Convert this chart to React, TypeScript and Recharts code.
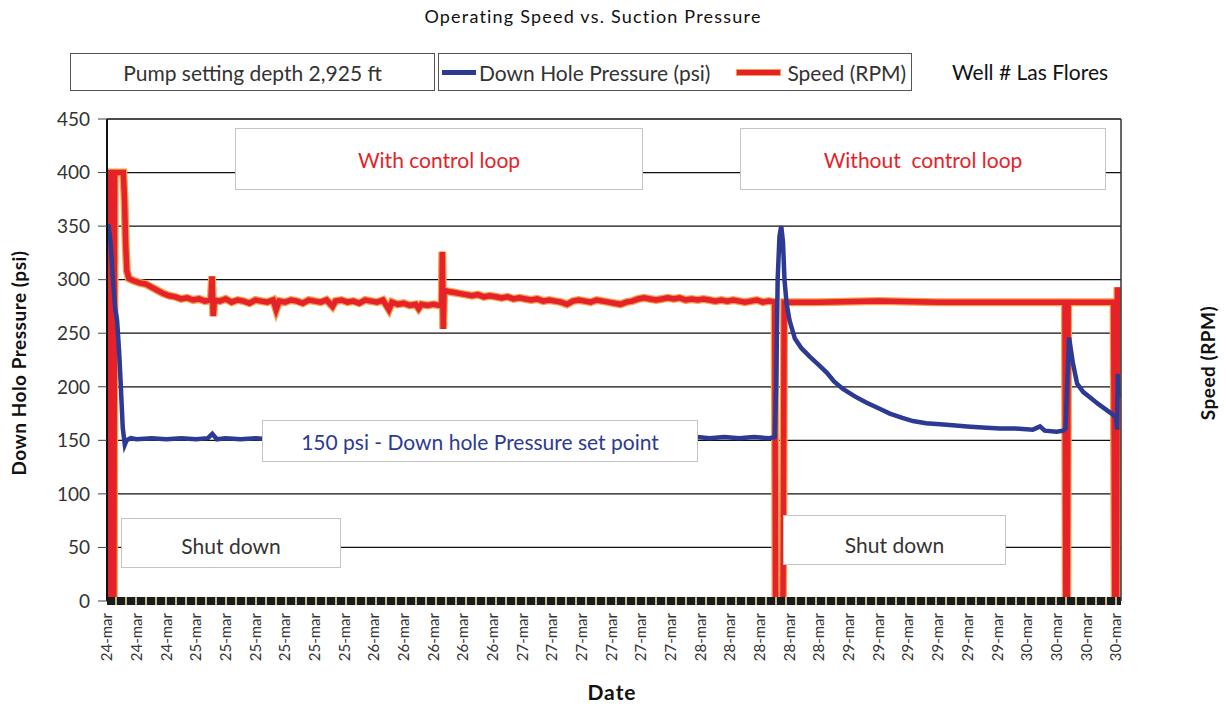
import React from "react";
import {
  LineChart,
  Line,
  XAxis,
  YAxis,
  CartesianGrid,
  ReferenceLine,
} from "recharts";

// x-axis tick labels, one per tick (tick index = time unit)
const xLabels = [
  "24-mar", "24-mar", "24-mar",
  "25-mar", "25-mar", "25-mar", "25-mar", "25-mar", "25-mar",
  "26-mar", "26-mar", "26-mar", "26-mar", "26-mar",
  "27-mar", "27-mar", "27-mar", "27-mar", "27-mar", "27-mar",
  "28-mar", "28-mar", "28-mar", "28-mar", "28-mar",
  "29-mar", "29-mar", "29-mar", "29-mar", "29-mar", "29-mar",
  "30-mar", "30-mar", "30-mar", "30-mar",
];

const yTicks = [0, 50, 100, 150, 200, 250, 300, 350, 400, 450];

// Speed (RPM): [time, rpm]
const speedPoints: [number, number][] = [
  [0, 0], [0.02, 400], [0.14, 400], [0.17, 0], [0.23, 0], [0.26, 400], [0.55, 400],
  [0.59, 375], [0.63, 332], [0.67, 308], [0.74, 301],
  [0.9, 299], [1.1, 297], [1.3, 296], [1.5, 293], [1.7, 290], [1.9, 287], [2.1, 285],
  [2.3, 284], [2.5, 282], [2.7, 283], [2.9, 281], [3.1, 282], [3.3, 280], [3.5, 281],
  [3.54, 303], [3.58, 266], [3.62, 281], [3.8, 280], [4.0, 282], [4.2, 279], [4.4, 281],
  [4.6, 280], [4.8, 278], [5.0, 281], [5.2, 280], [5.4, 279], [5.6, 281], [5.7, 272],
  [5.8, 280], [6.0, 279], [6.2, 281], [6.4, 280], [6.6, 278], [6.8, 281], [7.0, 280],
  [7.2, 279], [7.4, 281], [7.6, 275], [7.7, 280], [7.9, 281], [8.1, 279], [8.3, 280],
  [8.5, 278], [8.7, 281], [8.9, 280], [9.1, 279], [9.3, 281], [9.5, 272], [9.6, 279],
  [9.8, 277], [10.0, 278], [10.2, 276], [10.4, 277], [10.5, 273], [10.6, 277], [10.8, 276],
  [11.0, 277], [11.2, 276], [11.28, 278], [11.3, 326], [11.33, 254], [11.36, 290],
  [11.5, 289], [11.7, 288], [11.9, 287], [12.1, 286], [12.3, 285], [12.5, 286], [12.7, 284],
  [12.9, 285], [13.1, 284], [13.3, 283], [13.5, 284], [13.7, 282], [13.9, 283], [14.1, 282],
  [14.3, 281], [14.5, 282], [14.7, 280], [14.9, 281], [15.1, 280], [15.3, 279], [15.5, 277],
  [15.7, 280], [15.9, 281], [16.1, 280], [16.3, 279], [16.5, 281], [16.7, 280], [16.9, 279],
  [17.1, 278], [17.3, 277], [17.5, 279], [17.7, 280], [17.9, 282], [18.1, 283], [18.3, 282],
  [18.5, 281], [18.7, 282], [18.9, 283], [19.1, 282], [19.3, 283], [19.5, 281], [19.7, 282],
  [19.9, 281], [20.1, 282], [20.3, 281], [20.5, 280], [20.7, 281], [20.9, 280], [21.1, 281],
  [21.3, 280], [21.5, 279], [21.7, 280], [21.9, 281], [22.1, 279], [22.3, 280], [22.5, 279],
  [22.53, 0], [22.78, 0], [22.82, 279], [24, 279], [26, 280], [28, 279], [30, 279],
  [32.28, 279], [32.31, 0], [32.36, 0], [32.39, 279], [33.92, 279], [33.96, 0], [34.02, 0],
  [34.05, 293],
];

// Down hole pressure (psi): [time, psi]
const pressurePoints: [number, number][] = [
  [0.04, 352], [0.12, 335], [0.2, 300], [0.28, 272], [0.34, 262], [0.41, 232], [0.47, 198],
  [0.53, 162], [0.6, 146], [0.66, 150], [0.8, 152], [1.0, 151], [1.5, 152], [2.0, 151],
  [2.5, 152], [3.0, 151], [3.4, 152], [3.55, 156], [3.7, 151], [4.0, 152], [4.5, 151],
  [5.0, 152], [5.5, 151], [8, 152], [12, 152], [16, 152], [19.9, 153], [20.3, 152],
  [20.8, 153], [21.3, 152], [21.8, 153], [22.3, 152], [22.5, 153], [22.55, 200], [22.6, 300],
  [22.66, 340], [22.72, 350], [22.78, 335], [22.83, 300], [22.9, 278], [23.0, 262],
  [23.18, 245], [23.4, 236], [23.69, 228], [24.0, 220], [24.26, 213], [24.5, 205],
  [24.8, 198], [25.2, 191], [25.6, 185], [26.0, 180], [26.38, 175], [26.8, 171], [27.16, 168],
  [27.6, 166], [28.07, 165], [28.5, 164], [28.98, 163], [29.5, 162], [30.09, 161], [30.6, 161],
  [31.2, 160], [31.44, 163], [31.6, 159], [32.0, 158], [32.22, 159], [32.3, 161], [32.42, 246],
  [32.55, 222], [32.69, 203], [32.9, 195], [33.13, 190], [33.4, 184], [33.7, 178], [33.9, 174],
  [34.0, 171], [34.04, 160], [34.06, 212], [34.08, 190],
];

const speedData = speedPoints.map(([t, v]) => ({ t, v }));
const pressureData = pressurePoints.map(([t, v]) => ({ t, v }));
const xTicks = xLabels.map((_, i) => i);

const FONT = "Lato, 'Open Sans', sans-serif";
const RED = "#e52229";
const ORANGE = "#f6a04a";
const BLUE = "#2d3a94";

const DateTick = ({ x, y, payload }: any) => (
  <text
    x={x}
    y={y}
    transform={`rotate(-90 ${x} ${y})`}
    textAnchor="end"
    dy="0.35em"
    fontSize={15}
    fill="#333"
    fontFamily={FONT}
  >
    {xLabels[payload.value]}
  </text>
);

const boxStyle: React.CSSProperties = {
  position: "absolute",
  background: "#fff",
  border: "1.5px solid #c4c4c4",
  display: "flex",
  alignItems: "center",
  justifyContent: "center",
  fontSize: 21,
  whiteSpace: "pre",
  boxSizing: "border-box",
};

const axisTitle: React.CSSProperties = {
  position: "absolute",
  whiteSpace: "nowrap",
  fontSize: 19,
  fontWeight: 700,
  letterSpacing: 0.5,
  color: "#111",
};

export default function App() {
  return (
    <div
      style={{
        position: "absolute",
        left: 0,
        top: 0,
        width: 1226,
        height: 706,
        background: "#fff",
        fontFamily: FONT,
        color: "#222",
      }}
    >
      <LineChart
        width={1226}
        height={706}
        margin={{ top: 119, right: 0, bottom: 35, left: 0 }}
      >
        <CartesianGrid
          yAxisId="l"
          vertical={false}
          stroke="#111"
          strokeWidth={1.3}
        />
        <XAxis
          type="number"
          dataKey="t"
          domain={[0, 34.17]}
          ticks={xTicks}
          interval={0}
          allowDataOverflow
          height={70}
          tickSize={0}
          tickMargin={12}
          tickLine={false}
          axisLine={false}
          tick={<DateTick />}
        />
        <YAxis
          yAxisId="l"
          domain={[0, 450]}
          ticks={yTicks}
          width={107}
          tickSize={9}
          tickMargin={8}
          axisLine={{ stroke: "#111", strokeWidth: 2 }}
          tickLine={{ stroke: "#444" }}
          tick={{ fontSize: 19, fill: "#333", fontFamily: FONT }}
        />
        <YAxis
          yAxisId="r"
          orientation="right"
          domain={[0, 450]}
          ticks={yTicks}
          width={105}
          tickSize={8}
          tickMargin={2}
          axisLine={{ stroke: "#333", strokeWidth: 1.5 }}
          tickLine={{ stroke: "#444" }}
          tick={{ fontSize: 19, fill: "#333", fontFamily: FONT }}
        />
        <Line
          yAxisId="l"
          data={speedData}
          dataKey="v"
          type="linear"
          stroke={ORANGE}
          strokeWidth={8}
          dot={false}
          isAnimationActive={false}
          legendType="none"
        />
        <Line
          yAxisId="l"
          data={speedData}
          dataKey="v"
          type="linear"
          stroke={RED}
          strokeWidth={5.5}
          dot={false}
          isAnimationActive={false}
          name="Speed (RPM)"
        />
        <Line
          yAxisId="l"
          data={pressureData}
          dataKey="v"
          type="linear"
          stroke={BLUE}
          strokeWidth={4.5}
          dot={false}
          isAnimationActive={false}
          name="Down Hole Pressure (psi)"
        />
        <ReferenceLine yAxisId="l" y={0} stroke="#b9b68a" strokeWidth={8} />
        <ReferenceLine
          yAxisId="l"
          y={0}
          stroke="#1b1b1b"
          strokeWidth={8}
          strokeDasharray="8 2"
        />
      </LineChart>

      {/* title and legend row */}
      <div
        style={{
          position: "absolute",
          left: 0,
          width: 1186,
          top: 5,
          textAlign: "center",
          fontSize: 18,
          letterSpacing: 1.2,
          color: "#111",
        }}
      >
        Operating Speed vs. Suction Pressure
      </div>
      <div
        style={{
          position: "absolute",
          left: 70,
          top: 53,
          width: 365,
          height: 38,
          border: "1.5px solid #555",
          boxSizing: "border-box",
          display: "flex",
          alignItems: "center",
          justifyContent: "center",
          fontSize: 21,
          color: "#333",
        }}
      >
        Pump setting depth 2,925 ft
      </div>
      <div
        style={{
          position: "absolute",
          left: 438,
          top: 53,
          width: 474,
          height: 38,
          border: "1.5px solid #555",
          boxSizing: "border-box",
          display: "flex",
          alignItems: "center",
          fontSize: 21,
          color: "#333",
        }}
      >
        <span
          style={{
            display: "inline-block",
            width: 34,
            height: 5,
            background: BLUE,
            marginLeft: 3,
            marginRight: 3,
          }}
        />
        <span>Down Hole Pressure (psi)</span>
        <span
          style={{
            display: "inline-block",
            width: 43,
            height: 5,
            background: RED,
            border: `1px solid ${ORANGE}`,
            marginLeft: 26,
            marginRight: 6,
          }}
        />
        <span>Speed (RPM)</span>
      </div>
      <div
        style={{
          position: "absolute",
          left: 952,
          top: 59,
          fontSize: 21,
          color: "#111",
        }}
      >
        Well # Las Flores
      </div>

      {/* annotation boxes over the plot */}
      <div style={{ ...boxStyle, left: 235, top: 128, width: 408, height: 62, color: RED }}>
        With control loop
      </div>
      <div style={{ ...boxStyle, left: 740, top: 128, width: 366, height: 62, color: RED }}>
        Without  control loop
      </div>
      <div style={{ ...boxStyle, left: 262, top: 420, width: 436, height: 42, color: BLUE }}>
        150 psi - Down hole Pressure set point
      </div>
      <div style={{ ...boxStyle, left: 121, top: 518, width: 220, height: 50, color: "#333", paddingTop: 4 }}>
        Shut down
      </div>
      <div style={{ ...boxStyle, left: 783, top: 515, width: 223, height: 50, color: "#333", paddingTop: 8 }}>
        Shut down
      </div>

      {/* axis titles */}
      <div
        style={{
          ...axisTitle,
          left: 18,
          top: 363,
          transform: "translate(-50%, -50%) rotate(-90deg)",
        }}
      >
        Down Holo Pressure (psi)
      </div>
      <div
        style={{
          ...axisTitle,
          left: 1207,
          top: 363,
          transform: "translate(-50%, -50%) rotate(-90deg)",
        }}
      >
        Speed (RPM)
      </div>
      <div
        style={{
          ...axisTitle,
          left: 612,
          top: 691,
          fontSize: 21,
          letterSpacing: 1,
          transform: "translate(-50%, -50%)",
        }}
      >
        Date
      </div>
    </div>
  );
}
